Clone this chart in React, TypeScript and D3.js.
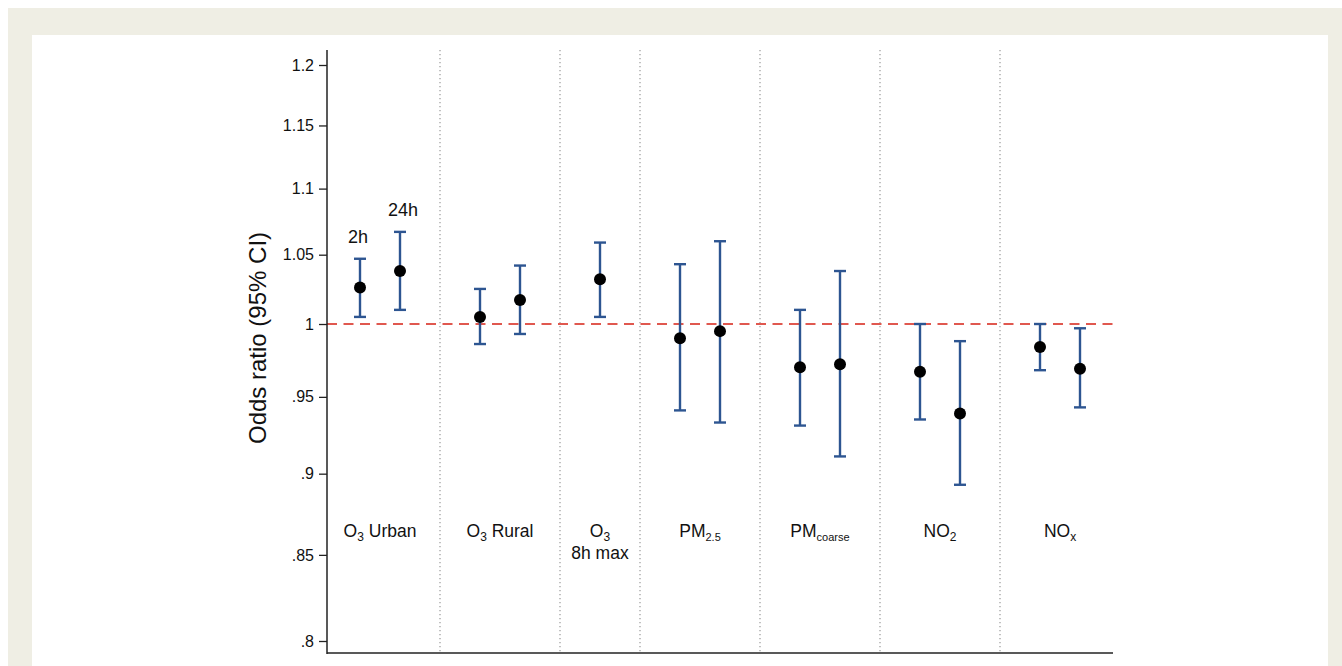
import { useEffect, useRef } from 'react';
import * as d3 from 'd3';

// odds ratios with 95% CI (2h and 24h averaging windows)
const groupNames = ['O3 Urban', 'O3 Rural', 'O3 8h max', 'PM2.5', 'PMcoarse', 'NO2', 'NOx'];
const groupSize = [2, 2, 1, 2, 2, 2, 2];
const labelMain = ['O', 'O', 'O', 'PM', 'PM', 'NO', 'NO'];
const labelSub = ['3', '3', '3', '2.5', 'coarse', '2', 'x'];
const labelTail = [' Urban', ' Rural', '', '', '', '', ''];
const labelLine2 = ['', '', '8h max', '', '', '', ''];
const lagLabels = ['2h', '24h'];

const oddsRatio = [1.026, 1.038, 1.005, 1.017, 1.032, 0.990, 0.995, 0.970, 0.972, 0.967, 0.939, 0.984, 0.969];
const ciLow = [1.005, 1.010, 0.986, 0.993, 1.005, 0.941, 0.933, 0.931, 0.911, 0.935, 0.893, 0.968, 0.943];
const ciHigh = [1.047, 1.067, 1.025, 1.042, 1.059, 1.043, 1.060, 1.010, 1.038, 1.000, 0.988, 1.000, 0.997];

const yTicks = [0.8, 0.85, 0.9, 0.95, 1, 1.05, 1.1, 1.15, 1.2];
const yTickLabels = ['.8', '.85', '.9', '.95', '1', '1.05', '1.1', '1.15', '1.2'];

const W = 1342;
const H = 666;
const FONT = '"Liberation Sans", Arial, Helvetica, sans-serif';

export default function App() {
  const axisRef = useRef<SVGGElement>(null);

  // slot layout: members of a group sit next to each other, one empty slot between groups
  const pointPos: number[] = [];
  const sepPos: number[] = [];
  const groupCenter: number[] = [];
  let slot = 0;
  groupSize.forEach((n, gi) => {
    const start = slot + 1;
    for (let k = 0; k < n; k++) pointPos.push(++slot);
    groupCenter.push((start + slot) / 2);
    if (gi < groupSize.length - 1) sepPos.push(++slot);
  });

  const left = 327, right = 1113, top = 50, bottom = 653;
  const x = d3.scaleLinear().domain([0.175, slot + 0.825]).range([left, right]);
  const y = d3.scaleLog().domain([0.8, 1.2]).range([641, 65]);

  useEffect(() => {
    if (!axisRef.current) return;
    const g = d3.select(axisRef.current);
    g.selectAll('*').remove();
    const axis = d3.axisLeft(y)
      .tickValues(yTicks)
      .tickFormat((d, i) => yTickLabels[i])
      .tickSize(8)
      .tickPadding(5);
    g.call(axis as any);
    g.select('.domain').remove();
    g.selectAll('.tick line').attr('stroke', '#222').attr('stroke-width', 1.3);
    g.selectAll('.tick text')
      .attr('fill', '#111')
      .style('font-size', '16px')
      .style('font-family', FONT);
  }, []);

  const capW = 6;
  const blue = '#2d5591';

  return (
    <svg width={W} height={H} style={{ position: 'absolute', left: 0, top: 0 }}>
      <rect x={0} y={0} width={W} height={H} fill="#fff" />
      <rect x={8} y={8} width={W - 8} height={H - 8} fill="#efeee4" />
      <rect x={32} y={35} width={1296} height={H - 35} fill="#fff" />

      {/* group separators */}
      {sepPos.map((p) => (
        <line key={p} x1={x(p)} x2={x(p)} y1={top} y2={bottom}
          stroke="#a0a0a0" strokeWidth={1.3} strokeDasharray="1.3,2.7" />
      ))}

      {/* null line */}
      <line x1={left} x2={right} y1={y(1)} y2={y(1)}
        stroke="#e0584f" strokeWidth={2} strokeDasharray="10,6.5" />

      {/* error bars */}
      {oddsRatio.map((v, i) => {
        const cx = x(pointPos[i]);
        return (
          <g key={i} stroke={blue} strokeWidth={2.4}>
            <line x1={cx} x2={cx} y1={y(ciLow[i])} y2={y(ciHigh[i])} />
            <line x1={cx - capW} x2={cx + capW} y1={y(ciLow[i])} y2={y(ciLow[i])} />
            <line x1={cx - capW} x2={cx + capW} y1={y(ciHigh[i])} y2={y(ciHigh[i])} />
          </g>
        );
      })}
      {oddsRatio.map((v, i) => (
        <circle key={i} cx={x(pointPos[i])} cy={y(v)} r={6} fill="#000" />
      ))}

      {/* lag annotations over the first group */}
      {lagLabels.map((t, i) => (
        <text key={t} x={x(pointPos[i]) + (i === 0 ? -2 : 3)} y={y(ciHigh[i]) - 16} textAnchor="middle"
          fontFamily={FONT} fontSize={18} fill="#111">{t}</text>
      ))}

      {/* group labels */}
      {groupNames.map((name, gi) => (
        <text key={name} x={x(groupCenter[gi])} y={537} textAnchor="middle"
          fontFamily={FONT} fontSize={17.5} fill="#111">
          <tspan>{labelMain[gi]}</tspan>
          <tspan dy={4} fontSize={labelSub[gi].length > 2 ? 11 : 12}>{labelSub[gi]}</tspan>
          <tspan dy={-4}>{labelTail[gi]}</tspan>
          {labelLine2[gi] && (
            <tspan x={x(groupCenter[gi])} dy={18}>{labelLine2[gi]}</tspan>
          )}
        </text>
      ))}

      {/* axes */}
      <line x1={left} x2={left} y1={top} y2={bottom + 1} stroke="#222" strokeWidth={1.5} />
      <line x1={left} x2={right} y1={bottom} y2={bottom} stroke="#222" strokeWidth={1.5} />
      <g ref={axisRef} transform={`translate(${left},0)`} />

      <text transform={`translate(257,338) rotate(-90)`} textAnchor="middle"
        dominantBaseline="central" fontFamily={FONT} fontSize={24} fill="#111">
        Odds ratio (95% CI)
      </text>
    </svg>
  );
}
